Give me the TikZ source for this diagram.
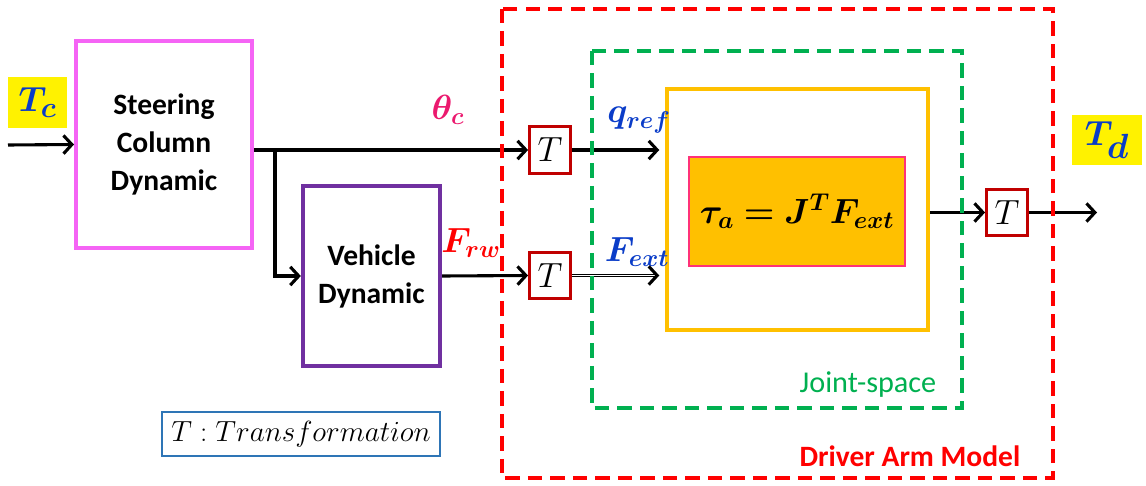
\documentclass[tikz,border=0pt]{standalone}
\usepackage{fontspec}
\usepackage{amsmath, bm}
\newfontfamily\calibri{Carlito}
\usetikzlibrary{positioning, arrows.meta}

\definecolor{steerpink}{RGB}{245,100,245}
\definecolor{vehpurple}{RGB}{112,48,160}
\definecolor{armred}{RGB}{255,0,0}
\definecolor{jointgreen}{RGB}{0,176,80}
\definecolor{tred}{RGB}{192,0,0}
\definecolor{gold}{RGB}{255,192,0}
\definecolor{sigblue}{RGB}{10,60,200}
\definecolor{thetapink}{RGB}{235,25,110}
\definecolor{legendblue}{RGB}{46,117,182}
\definecolor{eqborder}{RGB}{255,50,120}

\begin{document}
\begin{tikzpicture}[
    x=0.025cm, y=-0.025cm,
    block/.style={draw, line width=3pt, fill=white, inner sep=0pt, align=center, font=\calibri\bfseries\fontsize{21}{27}\selectfont},
    tbox/.style={draw=tred, line width=2.2pt, fill=white, inner sep=0pt, minimum width=29pt, minimum height=33pt, font=\fontsize{27}{27}\selectfont},
    tag/.style={fill=yellow, inner sep=0pt, text=sigblue},
    sig/.style={font=\fontsize{26}{26}\selectfont},
    region/.style={line width=3pt, dash pattern=on 10pt off 6pt},
    flow/.style={line width=2.2pt, -{Straight Barb[length=6pt, width=13pt]}}
    ]
    \useasboundingbox (0,0) rectangle (1146,486);

    % Nodes
    \node (tc) [tag, minimum width=42pt, minimum height=36pt, font=\fontsize{28}{28}\selectfont] at (37.5,102.5) {$\bm{T_c}$};
    \node (steer) [block, draw=steerpink, minimum width=125pt, minimum height=147pt] at (164,144.5) {Steering\\Column\\Dynamic};
    \node (veh) [block, draw=vehpurple, minimum width=97.5pt, minimum height=128pt] at (371.5,276) {Vehicle\\Dynamic};
    \node (t1) [tbox] at (550,150) {$T$};
    \node (t2) [tbox] at (550,275.5) {$T$};
    \node (arm) [draw=gold, line width=3pt, fill=white, minimum width=185.6pt, minimum height=171.4pt] at (797.5,209.5) {};
    \node (eq) [draw=eqborder, line width=0.8pt, fill=gold, minimum width=153.6pt, minimum height=77.5pt, font=\fontsize{26}{26}\selectfont] at (797,211.5) {$\bm{\tau_a = J^T F_{ext}}$};
    \node (t3) [tbox] at (1007,212.5) {$T$};
    \node (td) [tag, minimum width=50pt, minimum height=35.6pt, font=\fontsize{35}{35}\selectfont] at (1107,140) {$\bm{T_d}$};
    \node (legend) [draw=legendblue, line width=1pt, minimum width=197.7pt, minimum height=31.3pt, font=\fontsize{22}{22}\selectfont] at (301,434) {$T : Transformation$};

    % Labels
    \node (theta) [sig, text=thetapink] at (448,110) {$\bm{\theta_c}$};
    \node (qref) [sig, text=sigblue] at (639,120) {$\bm{q_{ref}}$};
    \node (frw) [sig, text=armred] at (471,243) {$\bm{F_{rw}}$};
    \node (fext) [sig, text=sigblue] at (637,252) {$\bm{F_{ext}}$};

    \coordinate (in) at (8,145);
    \coordinate (split) at (275,150);
    \coordinate (out) at (1097,212.5);

    % Arrows
    \draw [flow] (in) -- (steer.west);
    \draw [flow] (steer.east |- t1) -- (t1.west);
    \draw [flow] (split) |- (veh.west);
    \draw [flow] (veh.east) -- (t2.west);
    \draw [flow, shorten >=4pt] (t1.east) -- (arm.west |- t1);
    \draw [double, line width=0.7pt, double distance=1.3pt, shorten >=4pt, -{Straight Barb[length=6pt, width=13pt, line width=2.2pt]}] (t2.east) -- (arm.west |- t2);
    \draw [flow] (arm.east |- t3) -- (t3.west);
    \draw [flow] (t3.east) -- (out);

    % Regions
    \draw [region, armred] (502,9) rectangle (1053,478);
    \draw [region, jointgreen] (592,51) rectangle (962,408);
    \node (armlabel) [text=armred, font=\calibri\bfseries\fontsize{21}{21}\selectfont] at (910,456) {Driver Arm Model};
    \node (jointlabel) [text=jointgreen, font=\calibri\fontsize{21.5}{21.5}\selectfont] at (868,385) {Joint-space};
\end{tikzpicture}
\end{document}
